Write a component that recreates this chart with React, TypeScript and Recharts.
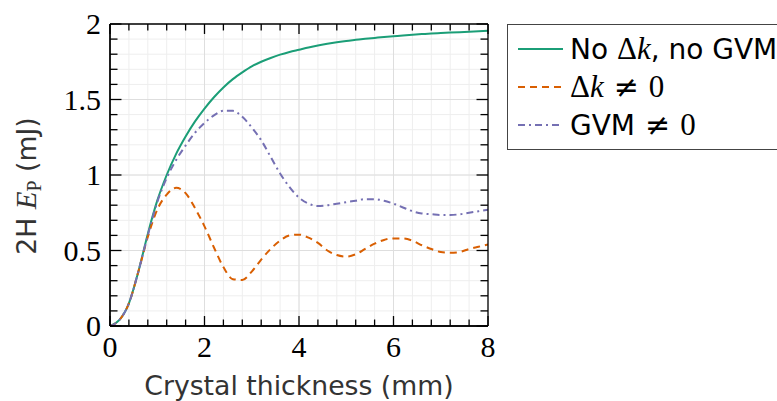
import React from 'react';
import { LineChart, Line, XAxis, YAxis, CartesianGrid, ReferenceLine, Legend, Label } from 'recharts';

const thickness = [0, 0.2, 0.4, 0.6, 0.8, 1.0, 1.2, 1.4, 1.6, 1.8, 2.0, 2.2, 2.4, 2.6, 2.8, 3.0, 3.2, 3.4, 3.6, 3.8, 4.0, 4.2, 4.4, 4.6, 4.8, 5.0, 5.2, 5.4, 5.6, 5.8, 6.0, 6.2, 6.4, 6.6, 6.8, 7.0, 7.2, 7.4, 7.6, 7.8, 8.0];
const noDkNoGvm = [0, 0.04, 0.15, 0.36, 0.61, 0.83, 1.0, 1.14, 1.255, 1.355, 1.44, 1.515, 1.58, 1.635, 1.68, 1.72, 1.75, 1.775, 1.797, 1.815, 1.83, 1.845, 1.858, 1.869, 1.879, 1.888, 1.895, 1.902, 1.908, 1.914, 1.919, 1.924, 1.929, 1.933, 1.937, 1.94, 1.943, 1.946, 1.949, 1.952, 1.955];
const dkNonZero = [0, 0.04, 0.15, 0.36, 0.59, 0.77, 0.87, 0.915, 0.88, 0.78, 0.66, 0.52, 0.39, 0.31, 0.305, 0.36, 0.44, 0.51, 0.565, 0.6, 0.605, 0.585, 0.55, 0.5, 0.47, 0.46, 0.475, 0.51, 0.545, 0.57, 0.58, 0.58, 0.565, 0.535, 0.51, 0.49, 0.485, 0.49, 0.51, 0.525, 0.54];
const gvmNonZero = [0, 0.04, 0.15, 0.36, 0.6, 0.82, 0.98, 1.1, 1.195, 1.28, 1.345, 1.395, 1.425, 1.425, 1.385, 1.315, 1.23, 1.12, 1.01, 0.92, 0.85, 0.81, 0.795, 0.8, 0.81, 0.82, 0.83, 0.84, 0.84, 0.83, 0.81, 0.785, 0.76, 0.745, 0.74, 0.735, 0.735, 0.74, 0.75, 0.76, 0.77];

const xTicks = [0, 0.4, 0.8, 1.2, 1.6, 2, 2.4, 2.8, 3.2, 3.6, 4, 4.4, 4.8, 5.2, 5.6, 6, 6.4, 6.8, 7.2, 7.6, 8];
const yTicks = [0, 0.1, 0.2, 0.3, 0.4, 0.5, 0.6, 0.7, 0.8, 0.9, 1, 1.1, 1.2, 1.3, 1.4, 1.5, 1.6, 1.7, 1.8, 1.9, 2];
const xMajor = [0, 2, 4, 6, 8];
const yMajor = [0, 0.5, 1, 1.5, 2];
const X_MIN = 0, X_MAX = 8, Y_MIN = 0, Y_MAX = 2;

const seriesKeys = ['noDk', 'dk', 'gvm'];
const seriesNames = ['No Δk, no GVM', 'Δk ≠ 0', 'GVM ≠ 0'];
const seriesColors = ['#1b9e77', '#d95f02', '#7570b3'];
const seriesDash = [undefined, '7 5', '7 4 2 4'];
const seriesValues = [noDkNoGvm, dkNonZero, gvmNonZero];

const data = thickness.map((x, i) => {
  const row: any = { x };
  seriesKeys.forEach((k, j) => { row[k] = seriesValues[j][i]; });
  return row;
});

// inward tick lengths expressed in axis units (x-ticks in y-units, y-ticks in x-units)
const X_TICK_MAJ = 0.066, X_TICK_MIN = 0.043;
const Y_TICK_MAJ = 0.243, Y_TICK_MIN = 0.159;

const SERIF = "'Liberation Serif', 'DejaVu Serif', serif";
const SANS = "'DejaVu Sans', sans-serif";
const isMaj = (arr: number[], v: number) => arr.some((m) => Math.abs(m - v) < 1e-6);

const BottomTick = (p: any) => {
  const { x, y, payload } = p;
  if (!isMaj(xMajor, payload.value)) return <g />;
  return <text x={x} y={y + 31} textAnchor="middle" fontFamily={SERIF} fontSize={30} fill="#000">{payload.value}</text>;
};
const LeftTick = (p: any) => {
  const { x, y, payload } = p;
  if (!isMaj(yMajor, payload.value)) return <g />;
  return <text x={x - 9} y={y + 10} textAnchor="end" fontFamily={SERIF} fontSize={30} fill="#000">{payload.value}</text>;
};

const NE = <span style={{ fontFamily: "'DejaVu Serif', serif", fontSize: 30, margin: '0 10px' }}>≠</span>;
const legendLabels = [
  <span><span style={{ fontFamily: SANS }}>No </span><span style={{ fontFamily: SERIF, fontSize: 31 }}>Δ</span><span style={{ fontFamily: SERIF, fontStyle: 'italic', fontSize: 31 }}>k</span><span style={{ fontFamily: SANS }}>, no GVM</span></span>,
  <span style={{ fontFamily: SERIF, fontSize: 31 }}>Δ<i>k</i>{NE}0</span>,
  <span><span style={{ fontFamily: SANS }}>GVM</span><span style={{ fontFamily: SERIF, fontSize: 31 }}>{NE}0</span></span>,
];

const LegendBox = () => (
  <div style={{ border: '1px solid #444', background: '#fff', padding: '5px 0', width: 300, boxSizing: 'border-box' }}>
    {seriesKeys.map((k, i) => (
      <div key={k} style={{ display: 'flex', alignItems: 'center', height: 38, fontSize: 28, color: '#000', lineHeight: '38px', whiteSpace: 'nowrap' }}>
        <svg width={45} height={38} style={{ marginLeft: 10, marginRight: 7 }}>
          <line x1={0} x2={45} y1={19} y2={19} stroke={seriesColors[i]} strokeWidth={2} strokeDasharray={seriesDash[i]} />
        </svg>
        {legendLabels[i]}
      </div>
    ))}
  </div>
);

const TICK = { stroke: '#000', strokeWidth: 1.3 };

export default function App() {
  return (
    <div style={{ position: 'absolute', left: 0, top: 0, width: 777, height: 401, overflow: 'hidden', background: '#fff' }}>
      <LineChart width={777} height={401} data={data} margin={{ top: 24, right: 289, left: 0, bottom: 0 }}>
        <CartesianGrid stroke="#eeeeee" strokeWidth={1} />
        <XAxis dataKey="x" type="number" domain={[X_MIN, X_MAX]} allowDataOverflow ticks={xTicks} interval={0} height={75}
          tickSize={0} tickMargin={0} tickLine={false} axisLine={{ stroke: '#000', strokeWidth: 1.3 }} tick={BottomTick}>
          <Label content={() => (
            <text x={299} y={395} textAnchor="middle" fontFamily={SANS} fontSize={26.7} fill="#333">Crystal thickness (mm)</text>
          )} />
        </XAxis>
        <YAxis type="number" domain={[Y_MIN, Y_MAX]} allowDataOverflow ticks={yTicks} interval={0} width={110}
          tickSize={0} tickMargin={0} tickLine={false} axisLine={{ stroke: '#000', strokeWidth: 1.3 }} tick={LeftTick}>
          <Label content={() => (
            <text x={36} y={186} transform="rotate(-90, 36, 186)" textAnchor="middle" fontFamily={SANS} fontSize={26.7} fill="#333">
              2H <tspan fontFamily={SERIF} fontStyle="italic" fontSize={29}>E</tspan><tspan fontFamily={SERIF} fontSize={20} dy={5}>P</tspan><tspan dy={-5}> (mJ)</tspan>
            </text>
          )} />
        </YAxis>
        {xMajor.filter((v) => v > X_MIN && v < X_MAX).map((v) => (
          <ReferenceLine key={'gx' + v} x={v} stroke="#dedede" strokeWidth={1} />
        ))}
        {yMajor.filter((v) => v > Y_MIN && v < Y_MAX).map((v) => (
          <ReferenceLine key={'gy' + v} y={v} stroke="#dedede" strokeWidth={1} />
        ))}
        {seriesKeys.map((k, i) => (
          <Line key={k} dataKey={k} name={seriesNames[i]} type="monotone" stroke={seriesColors[i]} strokeWidth={2}
            strokeDasharray={seriesDash[i]} dot={false} activeDot={false} isAnimationActive={false} />
        ))}
        {xTicks.map((v) => {
          const len = isMaj(xMajor, v) ? X_TICK_MAJ : X_TICK_MIN;
          return [
            <ReferenceLine key={'tb' + v} segment={[{ x: v, y: Y_MIN }, { x: v, y: Y_MIN + len }]} {...TICK} />,
            <ReferenceLine key={'tt' + v} segment={[{ x: v, y: Y_MAX }, { x: v, y: Y_MAX - len }]} {...TICK} />,
          ];
        })}
        {yTicks.map((v) => {
          const len = isMaj(yMajor, v) ? Y_TICK_MAJ : Y_TICK_MIN;
          return [
            <ReferenceLine key={'tl' + v} segment={[{ x: X_MIN, y: v }, { x: X_MIN + len, y: v }]} {...TICK} />,
            <ReferenceLine key={'tr' + v} segment={[{ x: X_MAX, y: v }, { x: X_MAX - len, y: v }]} {...TICK} />,
          ];
        })}
        <ReferenceLine x={X_MIN} {...TICK} />
        <ReferenceLine x={X_MAX} {...TICK} />
        <ReferenceLine y={Y_MIN} {...TICK} />
        <ReferenceLine y={Y_MAX} {...TICK} />
        <Legend layout="vertical" align="center" verticalAlign="middle" content={() => <LegendBox />}
          wrapperStyle={{ left: 507, top: 24, width: 300, height: 'auto' }} />
      </LineChart>
    </div>
  );
}
